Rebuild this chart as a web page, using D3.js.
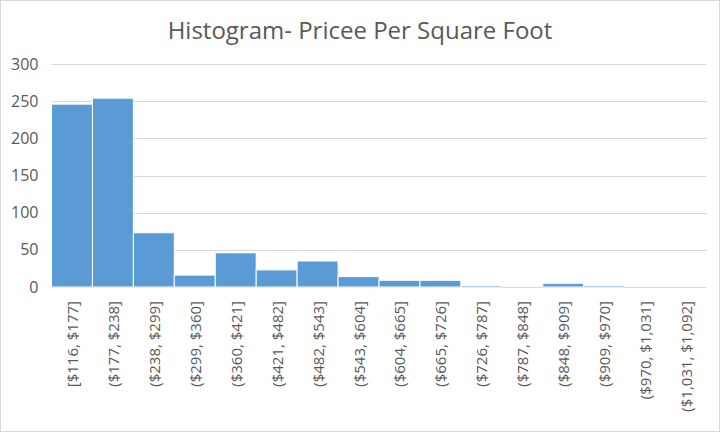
<!DOCTYPE html>
<html>
<head>
<meta charset="utf-8">
<script src="https://cdn.jsdelivr.net/npm/d3@7"></script>
<style>
html,body{margin:0;padding:0;background:#fff;}
svg{display:block;}
</style>
</head>
<body>
<script>
const title = "Histogram- Pricee Per Square Foot";
const categories = ["[$116, $177]","($177, $238]","($238, $299]","($299, $360]","($360, $421]","($421, $482]","($482, $543]","($543, $604]","($604, $665]","($665, $726]","($726, $787]","($787, $848]","($848, $909]","($909, $970]","($970, $1,031]","($1,031, $1,092]"];
const counts = [246, 254, 73, 16, 46, 23, 35, 14, 9, 9, 2, 0, 5, 2, 0, 0];
const yTicks = [0, 50, 100, 150, 200, 250, 300];

const W = 720, H = 432;
const m = {left: 51.5, right: 13.5, top: 64, bottom: 145};
const svg = d3.select("body").append("svg").attr("width", W).attr("height", H);
svg.append("rect").attr("x",0.5).attr("y",0.5).attr("width",W-1).attr("height",H-1)
  .attr("fill","#fff").attr("stroke","#d9d9d9");

const x = d3.scaleBand().domain(categories).range([m.left, W - m.right]).padding(0);
const y = d3.scaleLinear().domain([0, 300]).range([H - m.bottom, m.top]);

svg.append("text").attr("x", 360).attr("y", 39).attr("text-anchor","middle")
  .attr("font-family","'Open Sans', sans-serif").attr("font-size", 24).attr("fill","#595959")
  .text(title);

// grid
svg.append("g").selectAll("line").data(yTicks).join("line")
  .attr("x1", m.left).attr("x2", W - m.right)
  .attr("y1", d => Math.round(y(d)) + 0.5).attr("y2", d => Math.round(y(d)) + 0.5)
  .attr("stroke", "#d9d9d9").attr("stroke-width", 1);

// y axis labels
const yAxis = d3.axisLeft(y).tickValues(yTicks).tickSize(0).tickPadding(0);
const gy = svg.append("g").attr("transform", `translate(${m.left - 13},0)`).call(yAxis);
gy.select(".domain").remove();
gy.selectAll("text").attr("font-family","'Open Sans', sans-serif").attr("font-size", 16).attr("fill","#595959");

// bars
svg.append("g").selectAll("rect").data(counts).join("rect")
  .attr("x", (d,i) => x(categories[i]))
  .attr("width", x.bandwidth())
  .attr("y", d => y(d))
  .attr("height", d => y(0) - y(d))
  .attr("fill", "#5b9bd5")
  .attr("stroke", "#fff").attr("stroke-width", 1);

// x axis labels
const xAxis = d3.axisBottom(x).tickSize(0).tickPadding(0);
const gx = svg.append("g").attr("transform", `translate(0,${y(0)})`).call(xAxis);
gx.select(".domain").remove();
gx.selectAll("text")
  .attr("font-family","'Open Sans', sans-serif").attr("font-size", 15).attr("fill","#595959")
  .attr("text-anchor","end")
  .attr("dy", null)
  .attr("transform","translate(0,14) rotate(-90)")
  .attr("x", 0).attr("y", 0).attr("dominant-baseline","central");
</script>
</body>
</html>
